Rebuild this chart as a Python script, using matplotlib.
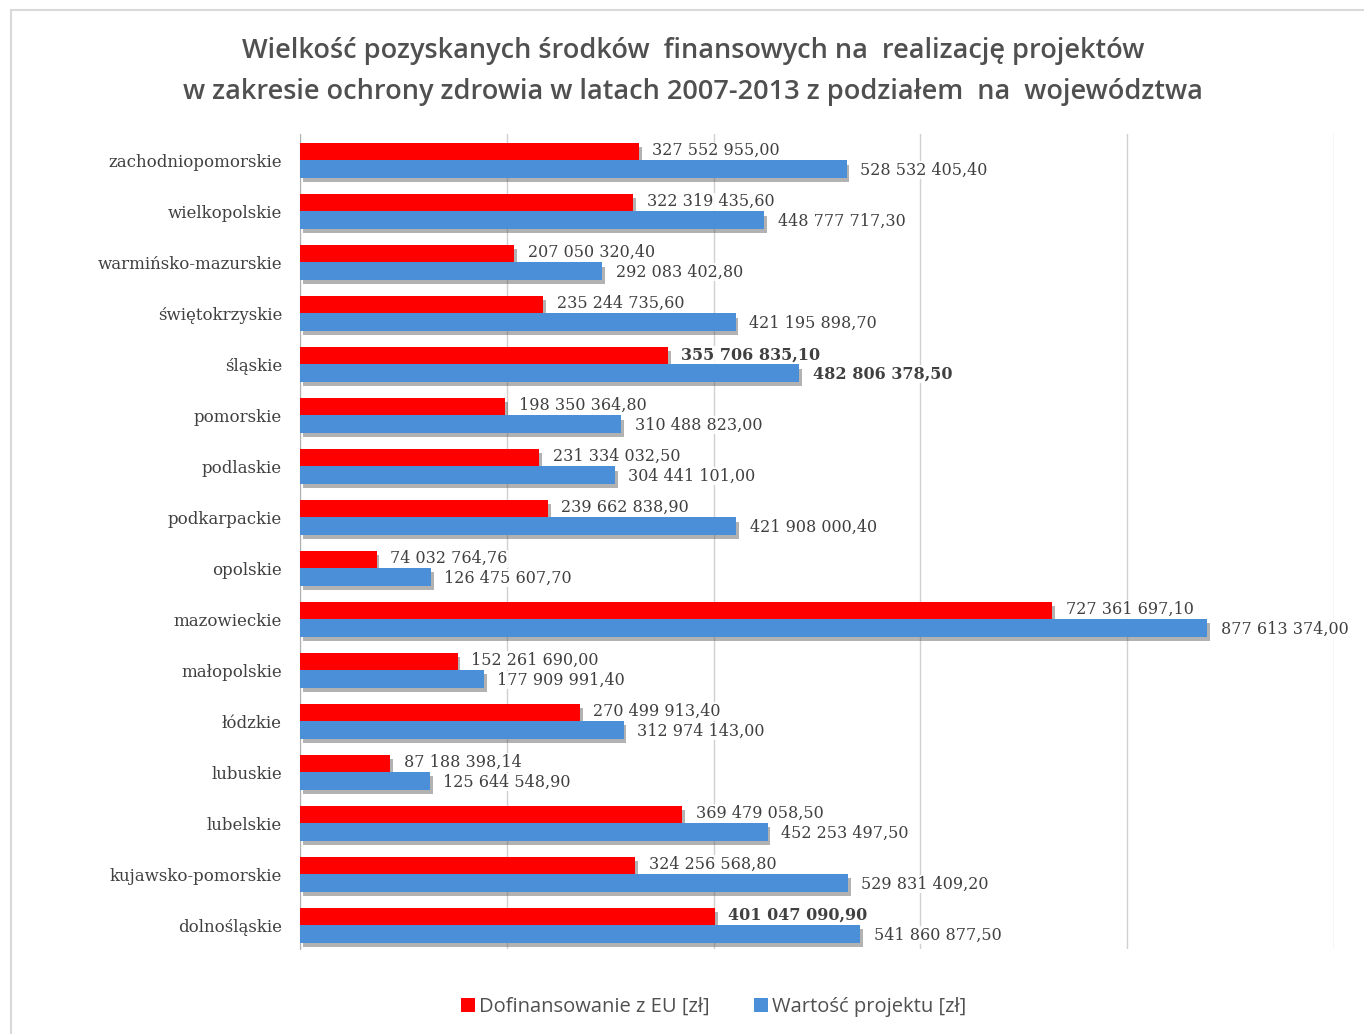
import matplotlib.pyplot as plt
import matplotlib.patheffects as pe
from matplotlib.patches import Rectangle
import numpy as np

regions = ['dolnośląskie', 'kujawsko-pomorskie', 'lubelskie', 'lubuskie', 'łódzkie',
           'małopolskie', 'mazowieckie', 'opolskie', 'podkarpackie', 'podlaskie',
           'pomorskie', 'śląskie', 'świętokrzyskie', 'warmińsko-mazurskie',
           'wielkopolskie', 'zachodniopomorskie']
eu_funding = [401047090.90, 324256568.80, 369479058.50, 87188398.14, 270499913.40,
              152261690.00, 727361697.10, 74032764.76, 239662838.90, 231334032.50,
              198350364.80, 355706835.10, 235244735.60, 207050320.40,
              322319435.60, 327552955.00]
project_value = [541860877.50, 529831409.20, 452253497.50, 125644548.90, 312974143.00,
                 177909991.40, 877613374.00, 126475607.70, 421908000.40, 304441101.00,
                 310488823.00, 482806378.50, 421195898.70, 292083402.80,
                 448777717.30, 528532405.40]
bold_eu = ['śląskie', 'dolnośląskie']
bold_proj = ['śląskie']

def fmt(v):
    s = f'{v:,.2f}'
    return s.replace(',', ' ').replace('.', ',')

fig = plt.figure(figsize=(13.64, 10.34), dpi=100)
fig.patches.append(Rectangle((0.008, -0.01), 1.0, 1.0, transform=fig.transFigure,
                             fill=False, edgecolor='#d9d9d9', linewidth=1.5))
ax = fig.add_axes([0.22, 0.082, 0.758, 0.788])

y = np.arange(len(regions))
h = 0.34
shadow = [pe.SimplePatchShadow(offset=(2, -3), shadow_rgbFace='#555555', alpha=0.45), pe.Normal()]
ax.barh(y + h / 2, eu_funding, height=h, color='#ff0000', label='Dofinansowanie z EU [zł]',
        path_effects=shadow, zorder=3)
ax.barh(y - h / 2, project_value, height=h, color='#4a8fd8', label='Wartość projektu [zł]',
        path_effects=shadow, zorder=3)

num_font = 'DejaVu Serif'
for i in range(len(regions)):
    w1 = 'bold' if regions[i] in bold_eu else 'normal'
    w2 = 'bold' if regions[i] in bold_proj else 'normal'
    ax.text(eu_funding[i] + 13e6, y[i] + h / 2 + 0.02, fmt(eu_funding[i]), va='center',
            fontsize=11.5, family=num_font, color='#404040', weight=w1, zorder=4,
            bbox=dict(facecolor='white', edgecolor='none', pad=0.5, alpha=0.9))
    ax.text(project_value[i] + 13e6, y[i] - h / 2 - 0.02, fmt(project_value[i]), va='center',
            fontsize=11.5, family=num_font, color='#404040', weight=w2, zorder=4,
            bbox=dict(facecolor='white', edgecolor='none', pad=0.5, alpha=0.9))

ax.set_xlim(0, 1e9)
ax.set_xticks(np.arange(0, 1.01e9, 2e8))
ax.set_xticklabels([])
ax.tick_params(axis='x', length=0)
ax.set_ylim(-0.47, 15.51)
ax.set_yticks(y)
ax.set_yticklabels(regions, fontsize=12, family=num_font, color='#404040')
ax.tick_params(axis='y', length=0, pad=13)
ax.grid(axis='x', color='#d0d0d0', linewidth=1, zorder=0)
for s in ['top', 'right', 'bottom']:
    ax.spines[s].set_visible(False)
ax.spines['left'].set_color('#b0b0b0')

fig.text(0.508, 0.931, 'Wielkość pozyskanych środków  finansowych na  realizację projektów\n'
         'w zakresie ochrony zdrowia w latach 2007-2013 z podziałem  na  województwa',
         ha='center', va='center', fontsize=19.5, family='Open Sans', color='#505050',
         weight='semibold', linespacing=1.6)

leg = fig.legend(loc='center', bbox_to_anchor=(0.523, 0.026), ncol=2, frameon=False,
                 prop={'family': 'Open Sans', 'size': 14.5}, handlelength=0.7, handleheight=0.7,
                 handletextpad=0.2, columnspacing=2.2)
for t in leg.get_texts():
    t.set_color('#505050')
for hnd in leg.legend_handles:
    hnd.set_path_effects([])

fig.savefig('out.png', dpi=100)
